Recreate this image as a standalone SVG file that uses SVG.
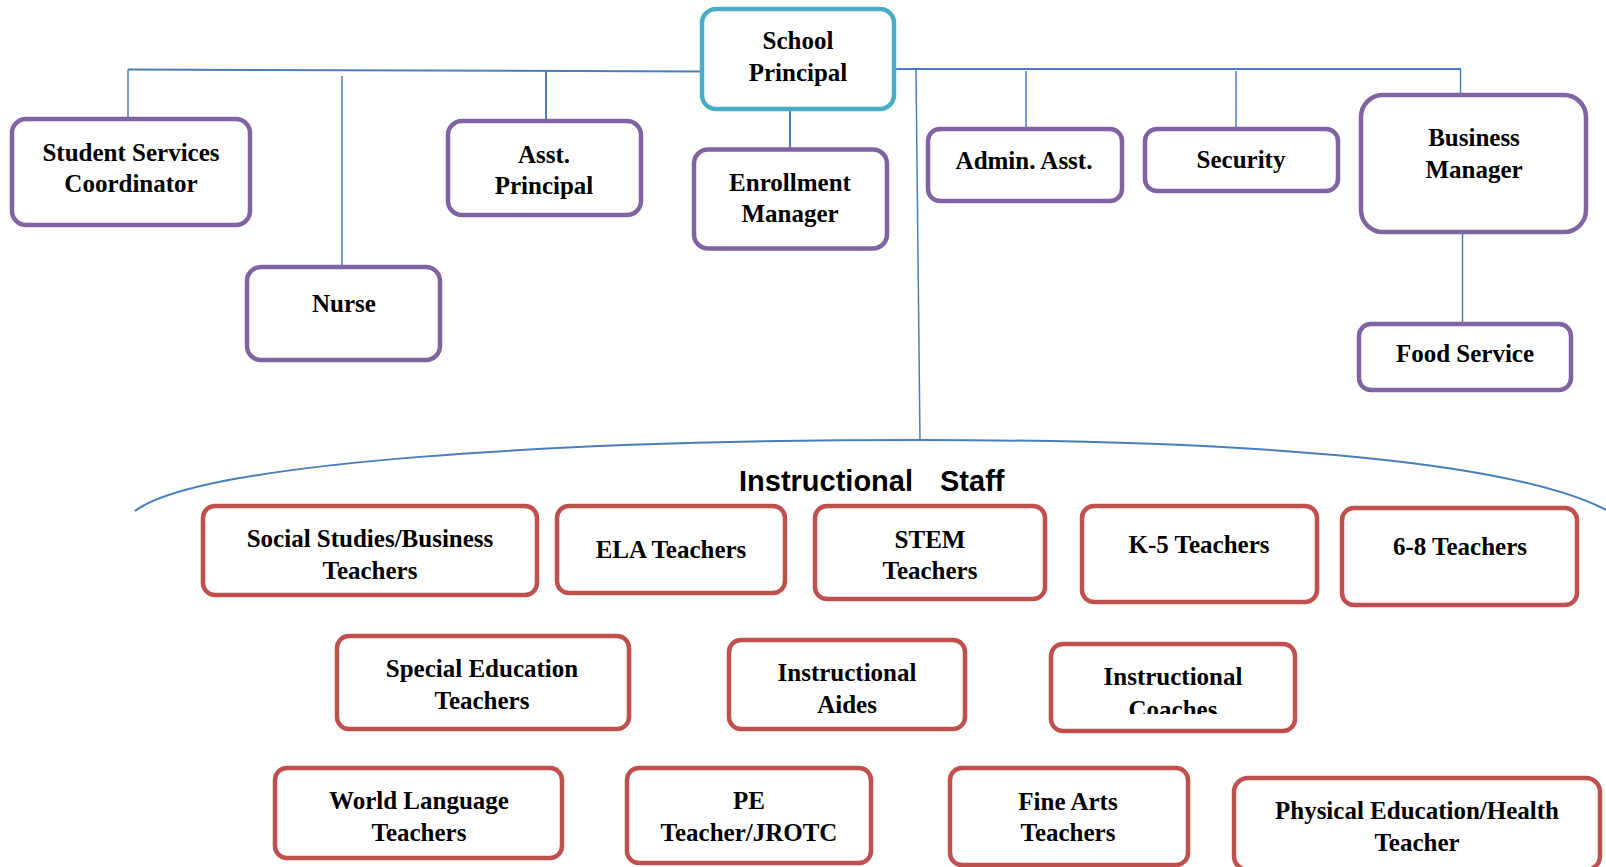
<svg xmlns="http://www.w3.org/2000/svg" width="1606" height="867" viewBox="0 0 1606 867">
<defs>
<style>
.p{fill:#fff;stroke:#8064A2;stroke-width:4.5}
.c{fill:#fff;stroke:#4BACC6;stroke-width:4.5}
.r{fill:#fff;stroke:#C0504D;stroke-width:4.5}
text{font-family:"Liberation Serif","Times New Roman",serif;font-weight:bold;font-size:25px;fill:#000;text-anchor:middle}
.t{font-family:"Liberation Sans",Arial,sans-serif;font-size:29px;text-anchor:start}
.ln{stroke:#4A7EBB;stroke-width:2;fill:none}
.lt{stroke:#4A7EBB;stroke-width:1.5;fill:none}
</style>
<clipPath id="clipCoach"><rect x="1051" y="644" width="244" height="70"/></clipPath>
</defs>
<g id="connectors">
<line class="ln" x1="128" y1="69.5" x2="702" y2="71.5"/>
<line class="ln" x1="895" y1="69" x2="1461" y2="69"/>
<line class="lt" x1="128" y1="69.5" x2="128" y2="119"/>
<line class="lt" x1="342" y1="76" x2="342" y2="267"/>
<line class="ln" x1="546" y1="71" x2="546" y2="121"/>
<line class="ln" x1="790" y1="111" x2="790" y2="149"/>
<line class="lt" x1="916" y1="70" x2="920" y2="440"/>
<line class="lt" x1="1026" y1="71" x2="1026" y2="129"/>
<line class="lt" x1="1236" y1="71" x2="1236" y2="129"/>
<line class="lt" x1="1460.5" y1="69" x2="1460.5" y2="95"/>
<line class="lt" x1="1462.5" y1="232" x2="1462.5" y2="324"/>
<path class="ln" d="M135,511 C200,462 560,440 920,440 C1260,440 1520,462 1610,512"/>
</g>
<g id="principal"><rect class="c" x="702" y="9" width="192" height="100" rx="14"/><text x="798" y="49">School</text><text x="798" y="80.7">Principal</text></g>
<g id="student-services"><rect class="p" x="12" y="119" width="238" height="106" rx="14"/><text x="131" y="160.6">Student Services</text><text x="131" y="192.4">Coordinator</text></g>
<g id="nurse"><rect class="p" x="247" y="267" width="193" height="93" rx="14"/><text x="344" y="312">Nurse</text></g>
<g id="asst-principal"><rect class="p" x="448" y="121" width="193" height="94" rx="14"/><text x="544" y="162.7">Asst.</text><text x="544" y="194.4">Principal</text></g>
<g id="enrollment"><rect class="p" x="694" y="149.5" width="193" height="99" rx="14"/><text x="790" y="191.3">Enrollment</text><text x="790" y="222">Manager</text></g>
<g id="admin-asst"><rect class="p" x="928" y="129" width="194" height="72" rx="12"/><text x="1024" y="168.8">Admin. Asst.</text></g>
<g id="security"><rect class="p" x="1145" y="129" width="193" height="62" rx="12"/><text x="1241" y="167.8">Security</text></g>
<g id="business"><rect class="p" x="1361" y="95" width="225" height="137" rx="22"/><text x="1474" y="146.3">Business</text><text x="1474" y="178">Manager</text></g>
<g id="food"><rect class="p" x="1359" y="324" width="212" height="66" rx="12"/><text x="1465" y="362.4">Food Service</text></g>
<g id="instructional-staff"><text class="t" y="491"><tspan x="739">Instructional</tspan><tspan x="940">Staff</tspan></text></g>
<g id="social-studies"><rect class="r" x="203" y="506" width="334" height="89" rx="12"/><text x="370" y="546.7">Social Studies/Business</text><text x="370" y="578.5">Teachers</text></g>
<g id="ela"><rect class="r" x="557" y="506" width="228" height="87" rx="12"/><text x="671" y="558">ELA Teachers</text></g>
<g id="stem"><rect class="r" x="815" y="506" width="230" height="93" rx="12"/><text x="930" y="547.7">STEM</text><text x="930" y="578.5">Teachers</text></g>
<g id="k5"><rect class="r" x="1082" y="506" width="235" height="96" rx="12"/><text x="1199" y="553">K-5 Teachers</text></g>
<g id="g68"><rect class="r" x="1342" y="508" width="235" height="97" rx="12"/><text x="1460" y="555">6-8 Teachers</text></g>
<g id="special-ed"><rect class="r" x="337" y="636" width="292" height="93" rx="12"/><text x="482" y="676.8">Special Education</text><text x="482" y="708.6">Teachers</text></g>
<g id="aides"><rect class="r" x="729" y="640" width="236" height="89" rx="12"/><text x="847" y="681">Instructional</text><text x="847" y="712.6">Aides</text></g>
<g id="coaches"><rect class="r" x="1051" y="644" width="244" height="87" rx="12"/><text x="1173" y="685">Instructional</text><text x="1173" y="718" clip-path="url(#clipCoach)">Coaches</text></g>
<g id="world-lang"><rect class="r" x="275" y="768" width="287" height="90" rx="12"/><text x="419" y="809">World Language</text><text x="419" y="840.7">Teachers</text></g>
<g id="pe-jrotc"><rect class="r" x="627" y="768" width="244" height="95" rx="12"/><text x="749" y="809">PE</text><text x="749" y="840.7">Teacher/JROTC</text></g>
<g id="fine-arts"><rect class="r" x="950" y="768" width="238" height="97" rx="12"/><text x="1068" y="810">Fine Arts</text><text x="1068" y="840.7">Teachers</text></g>
<g id="pe-health"><rect class="r" x="1234" y="778" width="366" height="92" rx="14"/><text x="1417" y="819">Physical Education/Health</text><text x="1417" y="851">Teacher</text></g>
</svg>
